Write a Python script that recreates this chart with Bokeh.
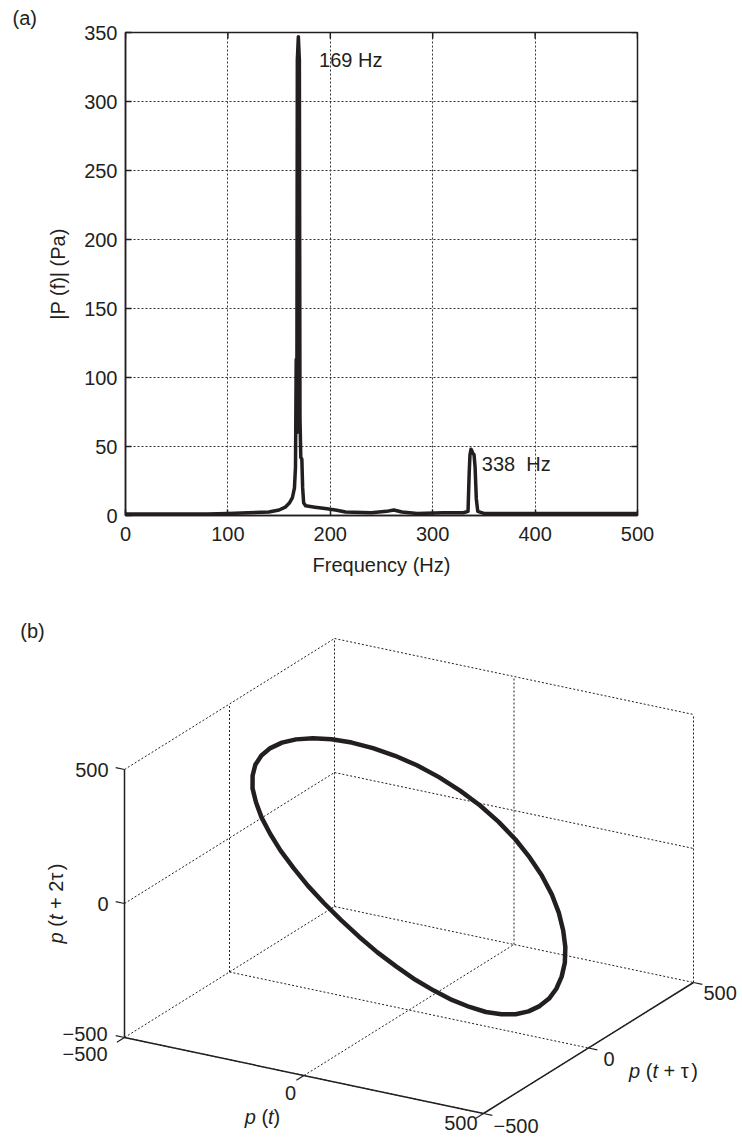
import numpy as np
from bokeh.plotting import figure
from bokeh.models import Label, FixedTicker, Range1d
from bokeh.embed import file_html
from bokeh.resources import INLINE

# ---------------- data: panel (a) — amplitude spectrum ----------------
freq_hz = [0, 40, 80, 100, 120, 140, 150, 156, 160, 163,
           165, 166.0, 166.7, 167.3, 167.8, 168.8, 169.8, 170.4, 171.2, 172.2,
           173.0, 174.0, 176, 185, 195, 205, 215, 240, 255, 262,
           270, 285, 310, 330, 334.5, 335.6, 336.4, 337.4, 338.2, 339.2,
           340.4, 341.4, 342.6, 344, 350, 400, 450, 500]
amp_pa = [1, 1, 1, 1.5, 2, 2.5, 4, 6, 9, 13,
          20, 35, 113, 60, 330, 347, 330, 70, 42, 41,
          20, 9, 7, 6, 5, 4, 2.5, 2, 3, 4,
          2.5, 1.5, 2, 2, 3, 30, 44, 48, 47, 45,
          44, 35, 12, 3, 1.5, 1.5, 1.5, 1.5]
freq_ticks = [0, 100, 200, 300, 400, 500]
amp_ticks = [0, 50, 100, 150, 200, 250, 300, 350]
peak_texts = ["169 Hz", "338\u00a0\u00a0Hz"]

# ---------------- data: panel (b) — delay embedding ----------------
# one period of the pressure signal p(t) (Pa), evenly sampled
pressure_pa = [56, 103, 146, 185, 219, 247, 271, 291, 306, 317, 325, 330,
               331, 330, 325, 317, 306, 291, 271, 247, 219, 185, 146, 103,
               56, 5, -48, -102, -157, -209, -259, -304, -344, -376, -400, -414,
               -419, -414, -400, -376, -344, -304, -259, -209, -157, -102, -48, 5]
delay_samples = 12          # tau (a quarter period)
embed_ticks = [-500, 0, 500]
embed_tick_labels = ["\u2212500", "0", "500"]

INK = "#231f20"
FONT = "Liberation Sans"
FSZ = 20

ADV = {' ': 278, '(': 333, ')': 333, '|': 260, '+': 584, '2': 556, 'p': 556,
       't': 278, 'f': 278, 'P': 667, 'a': 556, '\u03c4': 520}


def seg_width(s, size_px):
    return sum(ADV.get(c, 556) for c in s) * size_px / 1000.0


def mixed_label(fig, x, y, parts, size_px, dx=0.0, dy=0.0, vertical=False):
    total = sum(seg_width(t, size_px) for t, _ in parts)
    pos = -total / 2.0
    for t, style in parts:
        w = seg_width(t, size_px)
        if style is not None:
            xo = dx + (0.0 if vertical else pos)
            yo = dy + (pos if vertical else 0.0)
            fig.add_layout(Label(x=x, y=y, x_offset=xo, y_offset=yo, text=t,
                                 angle=(np.pi / 2 if vertical else 0.0),
                                 text_align="left", text_baseline="middle",
                                 text_font=FONT, text_font_style=style,
                                 text_font_size=f"{size_px}px", text_color=INK))
        pos += w


PAGE_W = 742

# =============================== panel (a) ===============================
X_MIN, X_MAX = 0, 500
Y_MIN, Y_MAX = 0, 350
p1 = figure(width=PAGE_W, height=598,
            min_border_left=125, min_border_right=105,
            min_border_top=32, min_border_bottom=83,
            x_range=Range1d(X_MIN, X_MAX), y_range=Range1d(Y_MIN, Y_MAX),
            output_backend="svg", toolbar_location=None)
p1.outline_line_color = INK
p1.outline_line_width = 1.5
p1.background_fill_color = "white"
p1.border_fill_color = "white"

p1.title.text = "(a)"
p1.title.align = "left"
p1.title.offset = -113
p1.title.standoff = 7
p1.title.text_font = FONT
p1.title.text_font_size = f"{FSZ}px"
p1.title.text_font_style = "normal"
p1.title.text_color = INK

xax = p1.below[0]
yax = p1.left[0]
xax.ticker = FixedTicker(ticks=freq_ticks)
yax.ticker = FixedTicker(ticks=amp_ticks)
for ax in (xax, yax):
    ax.axis_line_color = INK
    ax.axis_line_width = 1.5
    ax.major_tick_in = 6
    ax.major_tick_out = 0
    ax.major_tick_line_color = INK
    ax.major_tick_line_width = 1.5
    ax.minor_tick_line_color = None
    ax.major_label_text_font = FONT
    ax.major_label_text_font_size = f"{FSZ}px"
    ax.major_label_text_color = INK
    ax.axis_label_text_font = FONT
    ax.axis_label_text_font_style = "normal"
    ax.axis_label_text_font_size = f"{FSZ}px"
    ax.axis_label_text_color = INK

xax.major_label_standoff = 11
yax.major_label_standoff = 8
xax.axis_label = "Frequency (Hz)"
xax.axis_label_standoff = 10
yax.axis_label = "|P (f)| (Pa)"
yax.axis_label_standoff = 12

p1.xgrid.ticker = FixedTicker(ticks=freq_ticks)
p1.ygrid.ticker = FixedTicker(ticks=amp_ticks)
p1.grid.grid_line_color = "#333333"
p1.grid.grid_line_dash = "2 2"
p1.grid.grid_line_width = 1

# inward ticks on the top and right edges of the box
p1.scatter(freq_ticks, [Y_MAX] * len(freq_ticks), marker="dash", size=12,
           angle=np.pi / 2, line_color=INK, line_width=1.5)
p1.scatter([X_MAX] * len(amp_ticks), amp_ticks, marker="dash", size=12,
           line_color=INK, line_width=1.5)

p1.line(freq_hz, amp_pa, line_width=3.5, line_color=INK, line_join="round")

p1.add_layout(Label(x=189, y=330, text=peak_texts[0], text_align="left",
                    text_baseline="middle", text_font=FONT,
                    text_font_size=f"{FSZ}px", text_color=INK))
p1.add_layout(Label(x=348, y=37, text=peak_texts[1], text_align="left",
                    text_baseline="middle", text_font=FONT,
                    text_font_size=f"{FSZ}px", text_color=INK))

# =============================== panel (b) ===============================
W2, H2 = PAGE_W, 542
p2 = figure(width=W2, height=H2, x_range=Range1d(0, W2), y_range=Range1d(0, H2),
            x_axis_type=None, y_axis_type=None, output_backend="svg",
            toolbar_location=None, min_border=0)
p2.outline_line_color = None
p2.background_fill_color = "white"
p2.border_fill_color = "white"

LO, HI = float(min(embed_ticks)), float(max(embed_ticks))
ORIGIN = np.array([124.0, 103.0])     # screen position of the (LO, LO, LO) corner
EX = np.array([359.0, -76.0])         # screen vector spanning the p(t) axis
EY = np.array([210.0, 131.0])         # screen vector spanning the p(t+tau) axis
EZ = np.array([0.0, 268.0])           # screen vector spanning the p(t+2tau) axis


def proj(x, y, z):
    u = (np.asarray(x, float) - LO) / (HI - LO)
    v = (np.asarray(y, float) - LO) / (HI - LO)
    w = (np.asarray(z, float) - LO) / (HI - LO)
    X = ORIGIN[0] + EX[0] * u + EY[0] * v + EZ[0] * w
    Y = ORIGIN[1] + EX[1] * u + EY[1] * v + EZ[1] * w
    return X, Y


# dotted grid on the three back planes
segs = set()
for t in embed_ticks:
    t = float(t)
    segs.add(((t, HI, LO), (t, HI, HI)))     # back wall, vertical
    segs.add(((LO, HI, t), (HI, HI, t)))     # back wall, horizontal
    segs.add(((LO, t, LO), (LO, t, HI)))     # left wall, vertical
    segs.add(((LO, LO, t), (LO, HI, t)))     # left wall, horizontal
    segs.add(((t, LO, LO), (t, HI, LO)))     # floor, along y
    segs.add(((LO, t, LO), (HI, t, LO)))     # floor, along x
gx, gy = [], []
for a, b in sorted(segs):
    xa, ya = proj(*a)
    xb, yb = proj(*b)
    gx.append([float(xa), float(xb)])
    gy.append([float(ya), float(yb)])
p2.multi_line(gx, gy, line_color=INK, line_width=1, line_dash="2 2")

# delay-embedded trajectory
P = np.asarray(pressure_pa, float)
pt = P
pt_tau = np.roll(P, -delay_samples)
pt_2tau = np.roll(P, -2 * delay_samples)
lx, ly = proj(np.append(pt, pt[0]), np.append(pt_tau, pt_tau[0]),
              np.append(pt_2tau, pt_2tau[0]))
p2.line(lx, ly, line_color=INK, line_width=4.5, line_join="round")

# solid axes
axes_3d = [((LO, LO, LO), (HI, LO, LO)),
           ((HI, LO, LO), (HI, HI, LO)),
           ((LO, LO, LO), (LO, LO, HI))]
ax_x, ax_y = [], []
for a, b in axes_3d:
    xa, ya = proj(*a)
    xb, yb = proj(*b)
    ax_x.append([float(xa), float(xb)])
    ax_y.append([float(ya), float(yb)])
p2.multi_line(ax_x, ax_y, line_color=INK, line_width=1.5)

# ticks
TL = 9.0
ux = EX / np.linalg.norm(EX)
uy = EY / np.linalg.norm(EY)
tx0, ty0, tx1, ty1 = [], [], [], []
for t in embed_ticks:
    for (pxx, pyy), d in ((proj(LO, LO, t), -ux),      # z ticks
                          (proj(t, LO, LO), -uy),      # x ticks
                          (proj(HI, t, LO), ux)):      # y ticks
        tx0.append(float(pxx)); ty0.append(float(pyy))
        tx1.append(float(pxx + TL * d[0])); ty1.append(float(pyy + TL * d[1]))
p2.segment(tx0, ty0, tx1, ty1, line_color=INK, line_width=1.2)

# tick labels (per-label offsets in px, as placed in the reference)
z_off = [(-17, 4), (-16, 0), (-16, 0)]
x_off = [(-17, -16), (-8, -17), (-6, -9)]
y_off = [(10, -12), (15, -11), (10, -10)]
for i, (t, lab) in enumerate(zip(embed_ticks, embed_tick_labels)):
    zx, zy = proj(LO, LO, t)
    p2.add_layout(Label(x=float(zx) + z_off[i][0], y=float(zy) + z_off[i][1], text=lab,
                        text_align="right", text_baseline="middle", text_font=FONT,
                        text_font_size=f"{FSZ}px", text_color=INK))
    xx, xy = proj(t, LO, LO)
    p2.add_layout(Label(x=float(xx) + x_off[i][0], y=float(xy) + x_off[i][1], text=lab,
                        text_align="right", text_baseline="middle", text_font=FONT,
                        text_font_size=f"{FSZ}px", text_color=INK))
    yx, yy = proj(HI, t, LO)
    p2.add_layout(Label(x=float(yx) + y_off[i][0], y=float(yy) + y_off[i][1], text=lab,
                        text_align="left", text_baseline="middle", text_font=FONT,
                        text_font_size=f"{FSZ}px", text_color=INK))

# axis titles
cx, cy = proj(0, LO, LO)
mixed_label(p2, float(cx), float(cy),
            [("p", "italic"), (" ", None), ("(", "normal"), ("t", "italic"), (")", "normal")],
            FSZ, dx=-41.5, dy=-41)
cx, cy = proj(HI, 0, LO)
mixed_label(p2, float(cx), float(cy),
            [("p", "italic"), (" ", None), ("(", "normal"), ("t", "italic"), (" ", None),
             ("+", "normal"), (" ", None), ("\u03c4", "normal"), (")", "normal")],
            FSZ, dx=75, dy=-22.5)
cx, cy = proj(LO, LO, 0)
mixed_label(p2, float(cx), float(cy),
            [("p", "italic"), (" ", None), ("(", "normal"), ("t", "italic"), (" ", None),
             ("+", "normal"), (" ", None), ("2\u03c4", "normal"), (")", "normal")],
            FSZ, dx=-69, dy=0, vertical=True)

p2.add_layout(Label(x=32, y=510, text="(b)", text_align="center", text_baseline="middle",
                    text_font=FONT, text_font_size=f"{FSZ}px", text_color=INK))

open("out.html", "w").write(file_html([p1, p2], INLINE))
